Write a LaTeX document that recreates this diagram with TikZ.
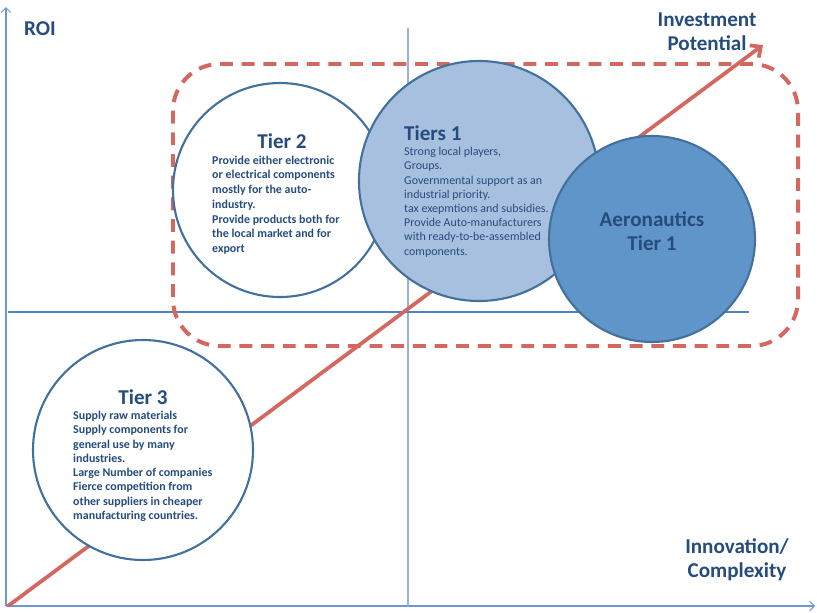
\documentclass[tikz,border=0pt]{standalone}
\usepackage{fontspec}
\setmainfont{Carlito}
\usetikzlibrary{arrows.meta,positioning}
\definecolor{axisblue}{HTML}{6A9AD2}
\definecolor{quadblue}{HTML}{95B3D7}
\definecolor{midblue}{HTML}{4F81BD}
\definecolor{tierblue}{HTML}{41719C}
\definecolor{textblue}{HTML}{264C7D}
\definecolor{lightfill}{HTML}{A7C0DF}
\definecolor{aerofill}{HTML}{6095C9}
\definecolor{potred}{HTML}{D4675F}

\begin{document}
\begin{tikzpicture}[
    x=0.03cm,
    y=-0.03cm,
    axis/.style={
        draw=axisblue,
        line width=0.9pt,
        -{Straight Barb[length=4pt,width=8pt]}
    },
    tier/.style={
        circle,
        draw=tierblue,
        line width=1.8pt,
        inner sep=0pt
    },
    title/.style={
        font=\fontsize{18}{21}\selectfont\bfseries,
        text=textblue,
        inner sep=0pt
    },
    body/.style={
        text=textblue,
        align=left,
        inner sep=0pt,
        anchor=north west
    },
    label/.style={
        font=\fontsize{18}{20.4}\selectfont\bfseries,
        text=textblue,
        align=center,
        inner sep=0pt
    }
]
\useasboundingbox (0,0) rectangle (817,612);

% axes
\coordinate (origin) at (6,606);
\coordinate (ytop) at (6,7);
\coordinate (xend) at (815,606);
\draw[axis] (origin) -- (ytop);
\draw[axis] (origin) -- (xend);

% quadrant lines
\coordinate (qtop) at (408,28);
\coordinate (qbot) at (408,606);
\coordinate (qleft) at (8,312);
\coordinate (qright) at (749,312);
\draw[quadblue, line width=1.6pt] (qtop) -- (qbot);
\draw[midblue, line width=0.9pt] (qleft) -- (qright);

% high potential zone
\draw[potred, line width=3.4pt, dash pattern=on 11pt off 7.5pt,
    rounded corners=1.4cm] (173,64) rectangle (798,346);

% investment potential arrow
\coordinate (start) at (8,606);
\coordinate (tip) at (763,45);
\draw[potred, line width=3.2pt, -{Straight Barb[length=7pt,width=13pt]}] (start) -- (tip);

% circles
\node[tier, fill=white, minimum size=6.6cm] (tier3) at (143,450) {};
\node[tier, fill=white, minimum size=6.42cm] (tier2) at (280,190) {};
\node[tier, fill=lightfill, minimum size=7.2cm] (tiers1) at (479,181) {};
\node[tier, fill=aerofill, minimum size=6.18cm] (aero) at (652,239) {};

% Tier 2
\node[title] (t2title) at (282,141) {Tier 2};
\node[body, font=\fontsize{10.2}{12.6}\selectfont\bfseries] (t2text) at (212,155.5)
{Provide either electronic\\
or electrical components\\
mostly for the auto-\\
industry.\\
Provide products both for\\
the local market and for\\
export};

% Tiers 1
\node[title, anchor=west] (t1title) at (404,133) {Tiers 1};
\node[body, font=\fontsize{10.2}{12.15}\selectfont] (t1text) at (404,147)
{Strong local players,\\
Groups.\\
Governmental support as an\\
industrial priority.\\
tax exepmtions and subsidies.\\
Provide Auto-manufacturers\\
with ready-to-be-assembled\\
components.};

% Aeronautics
\node[label, font=\fontsize{18}{21}\selectfont\bfseries] (aerotext) at (652,231) {Aeronautics\\Tier 1};

% Tier 3
\node[title] (t3title) at (143,397) {Tier 3};
\node[body, font=\fontsize{10.2}{12.15}\selectfont\bfseries] (t3text) at (73,411)
{Supply raw materials\\
Supply components for\\
general use by many\\
industries.\\
Large Number of companies\\
Fierce competition from\\
other suppliers in cheaper\\
manufacturing countries.};

% axis labels
\node[label] (roi) at (40,29) {ROI};
\node[label] (invest) at (707,32) {Investment\\Potential};
\node[label] (innov) at (737,560) {Innovation/\\Complexity};

\end{tikzpicture}
\end{document}
